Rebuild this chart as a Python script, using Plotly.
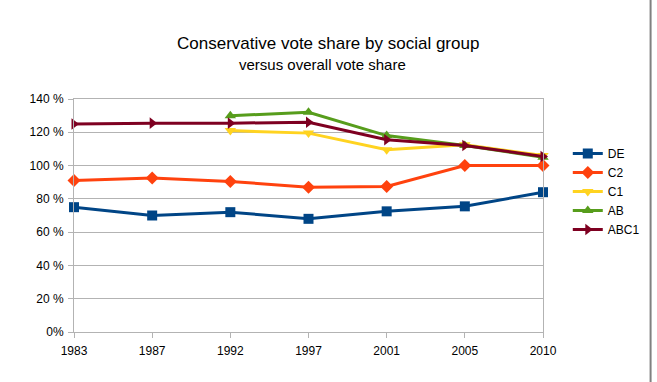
import plotly.graph_objects as go

years = ["1983", "1987", "1992", "1997", "2001", "2005", "2010"]
de = [75, 70, 72, 68, 72.5, 75.5, 84]
c2 = [91, 92.5, 90.5, 87, 87.5, 100, 100]
c1 = [None, None, 121, 119.5, 109.5, 112.5, 106]
ab = [None, None, 130, 132, 118, 112, 105]
abc1 = [125, 125.5, 125.5, 126, 115.5, 112, 105.5]

y_ticks = [0, 20, 40, 60, 80, 100, 120, 140]
y_tick_text = ["0%", "20 %", "40 %", "60 %", "80 %", "100 %", "120 %", "140 %"]

series = [
    ("DE", de, "#004586", "square", 10),
    ("C2", c2, "#ff420e", "diamond", 10),
    ("C1", c1, "#ffd320", "triangle-down", 10),
    ("AB", ab, "#579d1c", "triangle-up", 10),
    ("ABC1", abc1, "#7e0021", "triangle-right", 10),
]

fig = go.Figure()
for name, vals, color, sym, size in series:
    fig.add_trace(go.Scatter(
        x=years, y=vals, name=name, mode="lines+markers",
        line=dict(color=color, width=3),
        marker=dict(symbol=sym, size=size, color=color),
        cliponaxis=False, connectgaps=False,
    ))

W, H = 657, 382
L, T = 74, 99
pw, ph = 473, 233
R = W - L - pw
B = H - T - ph


def px_x(p):
    return (p - L) / pw


def px_y(p):
    return (T + ph - p) / ph


fig.update_layout(
    width=W, height=H,
    margin=dict(l=L, r=R, t=T, b=B),
    paper_bgcolor="white", plot_bgcolor="white",
    font=dict(family="Liberation Sans, Arial, sans-serif", size=12, color="black"),
    showlegend=True,
    legend=dict(
        x=px_x(572), xanchor="left",
        y=px_y(139), yanchor="top",
        font=dict(size=12, color="black"),
        itemwidth=30, tracegroupgap=0,
        bgcolor="rgba(0,0,0,0)",
    ),
    xaxis=dict(
        type="category", range=[0, 6],
        showgrid=False, showline=True, linecolor="#b3b3b3", linewidth=1,
        mirror=True, ticks="outside", ticklen=5, tickcolor="#b3b3b3",
        tickfont=dict(size=12, color="black"), fixedrange=True,
        ticklabelstandoff=3,
    ),
    yaxis=dict(
        range=[0, 140], tickvals=y_ticks, ticktext=y_tick_text,
        showgrid=True, gridcolor="#b3b3b3", gridwidth=1,
        showline=True, linecolor="#b3b3b3", linewidth=1, mirror=True,
        ticks="outside", ticklen=5, tickcolor="#b3b3b3",
        tickfont=dict(size=12, color="black"), zeroline=False,
        ticklabelstandoff=2,
    ),
    annotations=[
        dict(text="Conservative vote share by social group", xref="paper", yref="paper",
             x=px_x(330), y=px_y(43), xanchor="center", yanchor="middle",
             showarrow=False, font=dict(size=17, color="black")),
        dict(text="versus overall vote share", xref="paper", yref="paper",
             x=px_x(325), y=px_y(65), xanchor="center", yanchor="middle",
             showarrow=False, font=dict(size=15, color="black")),
    ],
    shapes=[
        dict(type="line", xref="paper", yref="paper",
             x0=px_x(655.5), x1=px_x(655.5),
             y0=px_y(0), y1=px_y(382),
             line=dict(color="#808080", width=2)),
    ],
)

fig.write_html(
    "out.html",
    config={"displayModeBar": False},
    post_script="document.body.style.margin='0';document.body.style.overflow='hidden';",
)
